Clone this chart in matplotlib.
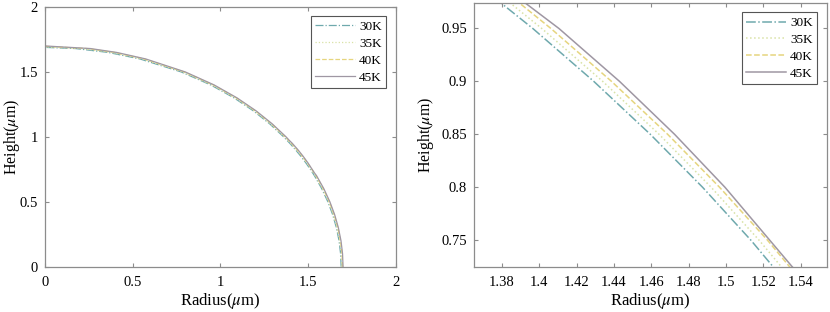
import matplotlib
matplotlib.use("Agg")
import matplotlib.pyplot as plt
from matplotlib.ticker import MultipleLocator

plt.rcParams.update({
    "font.family": ["Liberation Serif", "DejaVu Serif"],
    "mathtext.fontset": "stix",
    "font.size": 10,
    "xtick.direction": "in",
    "ytick.direction": "in",
    "xtick.top": True,
    "ytick.right": True,
    "xtick.major.size": 3,
    "ytick.major.size": 3,
    "xtick.major.pad": 7,
    "ytick.major.pad": 5,
    "axes.linewidth": 0.9,
})

# height (um) vs radius (um) per temperature
LABELS = ["30K", "35K", "40K", "45K"]
h_30 = [0.0, 0.1, 0.2, 0.3, 0.4, 0.5, 0.6, 0.7, 0.75, 0.8, 0.85, 0.9, 0.95, 1.0, 1.1, 1.2, 1.3, 1.4, 1.5,
        1.6, 1.65, 1.68, 1.689]
r_30 = [1.689, 1.6860, 1.6771, 1.6621, 1.6410, 1.6133, 1.5788, 1.5371, 1.5134, 1.4875, 1.4595, 1.4292,
        1.3965, 1.3611, 1.2817, 1.1886, 1.0783, 0.9448, 0.7764, 0.5410, 0.3609, 0.1741, 0.0]
h_35 = [0.0, 0.1, 0.2, 0.3, 0.4, 0.5, 0.6, 0.7, 0.75, 0.8, 0.85, 0.9, 0.95, 1.0, 1.1, 1.2, 1.3, 1.4, 1.5,
        1.6, 1.65, 1.68, 1.693]
r_35 = [1.693, 1.6900, 1.6811, 1.6662, 1.6451, 1.6175, 1.5831, 1.5415, 1.5178, 1.4921, 1.4642, 1.4340,
        1.4013, 1.3661, 1.2870, 1.1943, 1.0846, 0.9520, 0.7850, 0.5534, 0.3791, 0.2094, 0.0]
h_40 = [0.0, 0.1, 0.2, 0.3, 0.4, 0.5, 0.6, 0.7, 0.75, 0.8, 0.85, 0.9, 0.95, 1.0, 1.1, 1.2, 1.3, 1.4, 1.5,
        1.6, 1.65, 1.68, 1.697]
r_40 = [1.697, 1.6940, 1.6852, 1.6703, 1.6492, 1.6217, 1.5874, 1.5459, 1.5223, 1.4966, 1.4688, 1.4387,
        1.4062, 1.3711, 1.2922, 1.1999, 1.0908, 0.9591, 0.7936, 0.5655, 0.3966, 0.2396, 0.0]
h_45 = [0.0, 0.1, 0.2, 0.3, 0.4, 0.5, 0.6, 0.7, 0.725, 0.75, 0.8, 0.85, 0.9, 0.95, 0.974, 1.0, 1.1, 1.2,
        1.3, 1.4, 1.5, 1.6, 1.65, 1.68, 1.70]
r_45 = [1.700, 1.6971, 1.6882, 1.6733, 1.6523, 1.6248, 1.5906, 1.5492, 1.5355, 1.5235, 1.4995, 1.4725,
        1.4430, 1.4105, 1.3925, 1.3748, 1.2961, 1.2042, 1.0954, 0.9644, 0.8000, 0.5745, 0.4093, 0.2600, 0.0]

COLORS = ["#6fa9ad", "#d9e2a6", "#e6d57e", "#9f97a3"]
STYLES = ["-.", ":", "--", "-"]
SERIES = [(r_30, h_30), (r_35, h_35), (r_40, h_40), (r_45, h_45)]

fig = plt.figure(figsize=(8.3, 3.12), dpi=100)
ax1 = fig.add_axes([0.0542, 0.1452, 0.4225, 0.8324])
ax2 = fig.add_axes([0.5711, 0.1452, 0.4249, 0.8450])

for ax, lw in ((ax1, 0.9), (ax2, 1.1)):
    for (r, h), c, ls, lab in zip(SERIES, COLORS, STYLES, LABELS):
        ax.plot(r, h, color=c, ls=ls, lw=lw, label=lab)
    for sp in ax.spines.values():
        sp.set_color("#8c8c8c")
    ax.tick_params(colors="#8c8c8c", labelcolor="black", labelsize=10.5)
    ax.set_xlabel(r"Radius($\mu$m)", fontsize=12, labelpad=1)
    ax.set_ylabel(r"Height($\mu$m)", fontsize=11.5)
    leg = ax.legend(loc="upper right", fontsize=9.5, fancybox=False, framealpha=1,
                    edgecolor="#555555", handlelength=3.0, borderpad=0.35,
                    labelspacing=0.35, handletextpad=0.3, borderaxespad=0.7)
    leg.get_frame().set_linewidth(0.8)

ax1.yaxis.set_label_coords(-0.066, 0.5)
ax2.yaxis.set_label_coords(-0.108, 0.5)

ax1.set_xlim(0, 2)
ax1.set_ylim(0, 2)
ax1.xaxis.set_major_locator(MultipleLocator(0.5))
ax1.yaxis.set_major_locator(MultipleLocator(0.5))
ax1.xaxis.set_major_formatter(lambda v, p: f"{v:g}")
ax1.yaxis.set_major_formatter(lambda v, p: f"{v:g}")

ax2.set_xlim(1.365, 1.554)
ax2.set_ylim(0.725, 0.974)
ax2.xaxis.set_major_locator(MultipleLocator(0.02))
ax2.yaxis.set_major_locator(MultipleLocator(0.05))
ax2.xaxis.set_major_formatter(lambda v, p: f"{v:g}")
ax2.yaxis.set_major_formatter(lambda v, p: f"{v:g}")

fig.savefig("out.png", dpi=100)
